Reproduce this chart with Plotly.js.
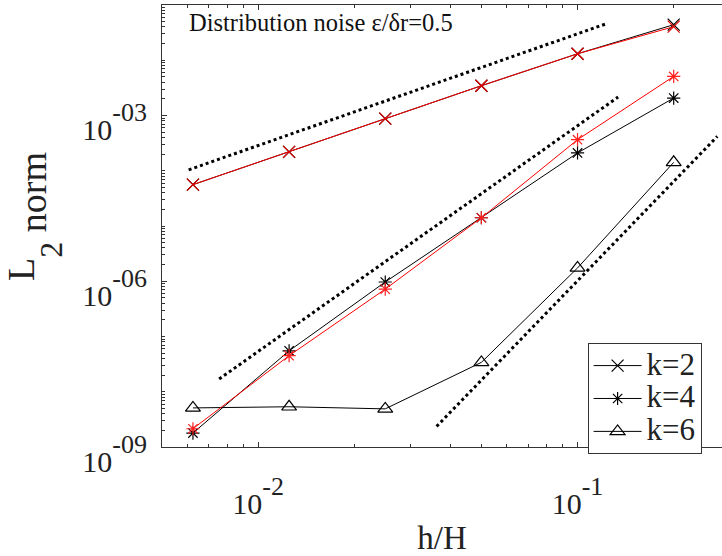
<!DOCTYPE html>
<html><head><meta charset="utf-8">
<script src="https://cdn.plot.ly/plotly-3.0.1.min.js"></script>
<style>html,body{margin:0;padding:0;background:#fff;overflow:hidden}</style>
</head><body><div id="chart" style="width:722px;height:556px"></div>
<script>
// grid spacing h/H
const h = [0.00625, 0.0125, 0.025, 0.05, 0.1, 0.2];
// L2 norm errors
const k2Black = [5.6e-5, 2.2e-4, 8.8e-4, 3.46e-3, 1.31e-2, 4.4e-2];
const k2Red   = [5.6e-5, 2.2e-4, 8.8e-4, 3.46e-3, 1.31e-2, 4.05e-2];
const k4Black = [1.79e-9, 5.5e-8, 9.7e-7, 1.41e-5, 2.1e-4, 2.07e-3];
const k4Red   = [2.14e-9, 4.5e-8, 7.2e-7, 1.41e-5, 3.65e-4, 5.1e-3];
const k6Black = [5.1e-9, 5.35e-9, 4.9e-9, 3.4e-8, 1.74e-6, 1.42e-4];
// reference slope lines (orders 2, 4, 6)
const slope2X = [0.00606, 0.1224], slope2Y = [1.04e-4, 4.53e-2];
const slope4X = [0.00755, 0.134],  slope4Y = [1.7e-8, 2.16e-3];
const slope6X = [0.0362, 0.274],   slope6Y = [2.36e-9, 4.19e-4];
const seriesNames = ['k=2', 'k=4', 'k=6'];
const xTickVals = [0.01, 0.1];
const xTickExp = ['-2', '-1'];
const yTickVals = [1e-9, 1e-6, 1e-3];
const yTickExp = ['-09', '-06', '-03'];
const noteText = 'Distribution noise ε/δr=0.5';

const FONT = 'Liberation Serif, Times New Roman, serif';
const pow10 = e => '10<span style="font-size:26px;baseline-shift:72%">' + e + '</span>';
const yTitle = '&nbsp;&nbsp;L<span style="font-size:32px;baseline-shift:-28px">2</span><span style="baseline-shift:-12px"> norm</span>';
const dotLine = {color: '#000', width: 3, dash: 'dot'};
const traces = [
  {x: slope2X, y: slope2Y, mode: 'lines', line: dotLine, showlegend: false, hoverinfo: 'skip'},
  {x: slope4X, y: slope4Y, mode: 'lines', line: dotLine, showlegend: false, hoverinfo: 'skip'},
  {x: slope6X, y: slope6Y, mode: 'lines', line: dotLine, showlegend: false, hoverinfo: 'skip'},
  {x: h, y: k2Black, name: '<span style="font-size:31px">' + seriesNames[0] + '</span>', mode: 'lines+markers',
   line: {color: '#000', width: 1}, marker: {symbol: 'x-thin-open', size: 12, color: '#000', line: {color: '#000', width: 1.2}}},
  {x: h, y: k4Black, name: '<span style="font-size:31px">' + seriesNames[1] + '</span>', mode: 'lines+markers',
   line: {color: '#000', width: 1}, marker: {symbol: 'asterisk-open', size: 11, color: '#000', line: {color: '#000', width: 1.2}}},
  {x: h, y: k6Black, name: '<span style="font-size:31px">' + seriesNames[2] + '</span>', mode: 'lines+markers',
   line: {color: '#000', width: 1}, marker: {symbol: 'triangle-up-open', size: 13, color: '#000', line: {color: '#000', width: 1.2}}},
  {x: h, y: k2Red, mode: 'lines+markers', showlegend: false,
   line: {color: '#ff0000', width: 1}, marker: {symbol: 'x-thin-open', size: 12, color: '#e00000', line: {color: '#e00000', width: 1.2}}},
  {x: h, y: k4Red, mode: 'lines+markers', showlegend: false,
   line: {color: '#ff0000', width: 1}, marker: {symbol: 'asterisk-open', size: 11, color: '#ff2020', line: {color: '#ff2020', width: 1.2}}}
];

const axisCommon = {
  type: 'log', showgrid: false, zeroline: false, showline: true, linecolor: '#333', linewidth: 1,
  ticks: 'inside', ticklen: 5, tickcolor: '#333', tickwidth: 1,
  tickfont: {family: FONT, size: 30, color: '#222'},
  minor: {ticks: 'inside', ticklen: 3, tickcolor: '#333', dtick: 'D1', showgrid: false}
};

const layout = {
  width: 722, height: 556,
  margin: {l: 162, r: 0, t: 5, b: 109},
  paper_bgcolor: '#fff', plot_bgcolor: '#fff',
  font: {family: FONT, color: '#222'},
  xaxis: Object.assign({}, axisCommon, {
    range: [Math.log10(0.005), -0.5477], mirror: 'allticks',
    tickmode: 'array', tickvals: xTickVals, ticktext: xTickExp.map(pow10), ticklabelstandoff: 30,
    title: {text: 'h/H', font: {family: FONT, size: 33, color: '#222'}, standoff: 36}
  }),
  yaxis: Object.assign({}, axisCommon, {
    range: [-9, -1],
    tickmode: 'array', tickvals: yTickVals, ticktext: yTickExp.map(pow10), ticklabelstandoff: 8, ticklabelshift: 14,
    title: {text: yTitle, font: {family: FONT, size: 38, color: '#222'}, standoff: 36}
  }),
  legend: {
    x: 0.76, y: 0.235, xanchor: 'left', yanchor: 'top',
    bgcolor: '#fff', bordercolor: '#333', borderwidth: 1,
    font: {family: FONT, size: 23, color: '#222'}, itemwidth: 48, tracegroupgap: 0
  },
  annotations: [{
    xref: 'paper', yref: 'paper', x: 0.045, y: 0.995, xanchor: 'left', yanchor: 'top',
    text: noteText, showarrow: false, font: {family: FONT, size: 24.5, color: '#111'}
  }]
};

Plotly.newPlot('chart', traces, layout, {displayModeBar: false, staticPlot: true});
</script></body></html>
